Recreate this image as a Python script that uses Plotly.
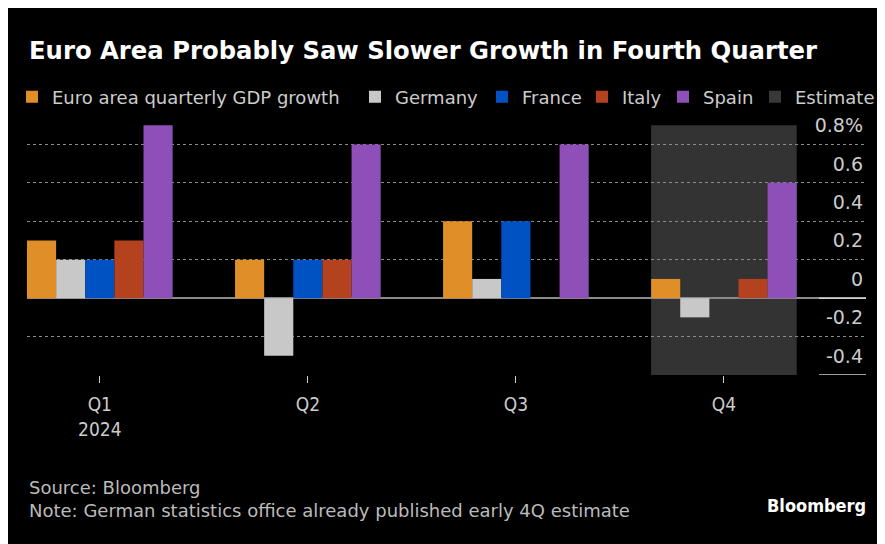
import plotly.graph_objects as go

# Quarterly GDP growth, % q/q
quarters = ["Q1", "Q2", "Q3", "Q4"]
quarter_labels = ["Q1<br>2024", "Q2", "Q3", "Q4"]
euro_area = [0.3, 0.2, 0.4, 0.1]
germany = [0.2, -0.3, 0.1, -0.1]
france = [0.2, 0.2, 0.4, 0.0]
italy = [0.3, 0.2, 0.0, 0.1]
spain = [0.9, 0.8, 0.8, 0.6]

y_ticks = [-0.4, -0.2, 0, 0.2, 0.4, 0.6, 0.8]
y_tick_text = ["-0.4", "-0.2", "0", "0.2", "0.4", "0.6", "0.8%"]

COND = "DejaVu Sans Condensed, DejaVu Sans, sans-serif"
SANS = "DejaVu Sans, sans-serif"

# the page body adds an 8px margin, so the figure itself is 8px smaller
OFF = 8
W, H = 885 - OFF, 544 - OFF
L, R, T, B = 19, 19, 98, 169
pw = W - L - R
ph = H - T - B


def px_x(p):
    # page pixel -> paper x
    return (p - OFF - L) / pw


def px_y(p):
    # page pixel -> paper y
    return (H - B - (p - OFF)) / ph


series = [
    ("Euro area quarterly GDP growth", euro_area, "#e08e27"),
    ("Germany", germany, "#c8c8c8"),
    ("France", france, "#0052c2"),
    ("Italy", italy, "#b5421f"),
    ("Spain", spain, "#8e50b8"),
]

# one single-item legend per entry so the row spacing follows the original
swatch_left = [30, 373, 500, 600, 681, 773]
legend_ids = ["legend"] + [f"legend{i}" for i in range(2, 7)]

fig = go.Figure()
for (name, vals, col), lid in zip(series, legend_ids):
    fig.add_trace(go.Bar(x=quarters, y=vals, name=name, marker_color=col,
                         marker_line_width=0, legend=lid))

# legend-only entry for the shaded estimate period
fig.add_trace(go.Scatter(x=[None], y=[None], mode="markers", name="Estimate",
                         legend=legend_ids[-1],
                         marker=dict(symbol="square", size=12, color="#383838")))

legends = {}
for lid, sx in zip(legend_ids, swatch_left):
    legends[lid] = dict(orientation="h", xref="container", x=(sx - 18 - OFF) / W,
                        xanchor="left", yref="container", y=1 - (97 - OFF) / H,
                        yanchor="middle", itemwidth=30, bgcolor="rgba(0,0,0,0)",
                        font=dict(family=SANS, size=18, color="#cccccc"))

shapes = [
    # estimate band over Q4
    dict(type="rect", xref="x", yref="y", layer="below",
         x0=2.65, x1=3.35, y0=-0.4, y1=0.9, fillcolor="#333333", line_width=0),
    # short underlines below the 0 and -0.4 labels
    dict(type="line", xref="paper", yref="y", x0=px_x(819), x1=px_x(866),
         y0=0, y1=0, line=dict(color="#d0d0d0", width=1.5)),
    dict(type="line", xref="paper", yref="y", x0=px_x(819), x1=px_x(866),
         y0=-0.4, y1=-0.4, line=dict(color="#d0d0d0", width=1.5)),
]

fig.update_layout(
    width=W, height=H,
    margin=dict(l=L, r=R, t=T, b=B, autoexpand=False),
    paper_bgcolor="black", plot_bgcolor="black",
    barmode="group", bargap=0.3, bargroupgap=0,
    title=dict(text="<b>Euro Area Probably Saw Slower Growth in Fourth Quarter</b>",
               x=px_x(29), xref="paper", xanchor="left",
               y=1 - (50 - OFF) / H, yanchor="middle",
               font=dict(family=SANS, size=24.3, color="white")),
    showlegend=True,
    shapes=shapes,
    xaxis=dict(range=[-0.35, 3.683], tickvals=quarters, ticktext=quarter_labels,
               ticks="outside", ticklen=7, tickcolor="#cccccc", tickwidth=1,
               ticklabelstandoff=5,
               showgrid=False, showline=False, zeroline=False,
               tickfont=dict(family=COND, size=19, color="#cccccc")),
    yaxis=dict(range=[-0.4, 1.0], side="right", tickvals=y_ticks,
               ticktext=y_tick_text, ticklabelposition="inside",
               ticklabelshift=-19, ticks="",
               showgrid=True, gridcolor="#8a8a8a", gridwidth=1,
               griddash="3px,3px",
               zeroline=True, zerolinecolor="#8a8a8a", zerolinewidth=1.5,
               tickfont=dict(family=SANS, size=19, color="#cccccc")),
    annotations=[
        dict(text="Source: Bloomberg<br>Note: German statistics office already published early 4Q estimate",
             xref="paper", yref="paper", x=px_x(27), y=px_y(499),
             xanchor="left", yanchor="middle", align="left", showarrow=False,
             font=dict(family=SANS, size=18, color="#bbbbbb")),
        dict(text="<b>Bloomberg</b>", xref="paper", yref="paper",
             x=px_x(868), y=px_y(505), xanchor="right", yanchor="middle",
             showarrow=False,
             font=dict(family=COND, size=18, color="white")),
    ],
    **legends,
)

fig.write_html("out.html")
